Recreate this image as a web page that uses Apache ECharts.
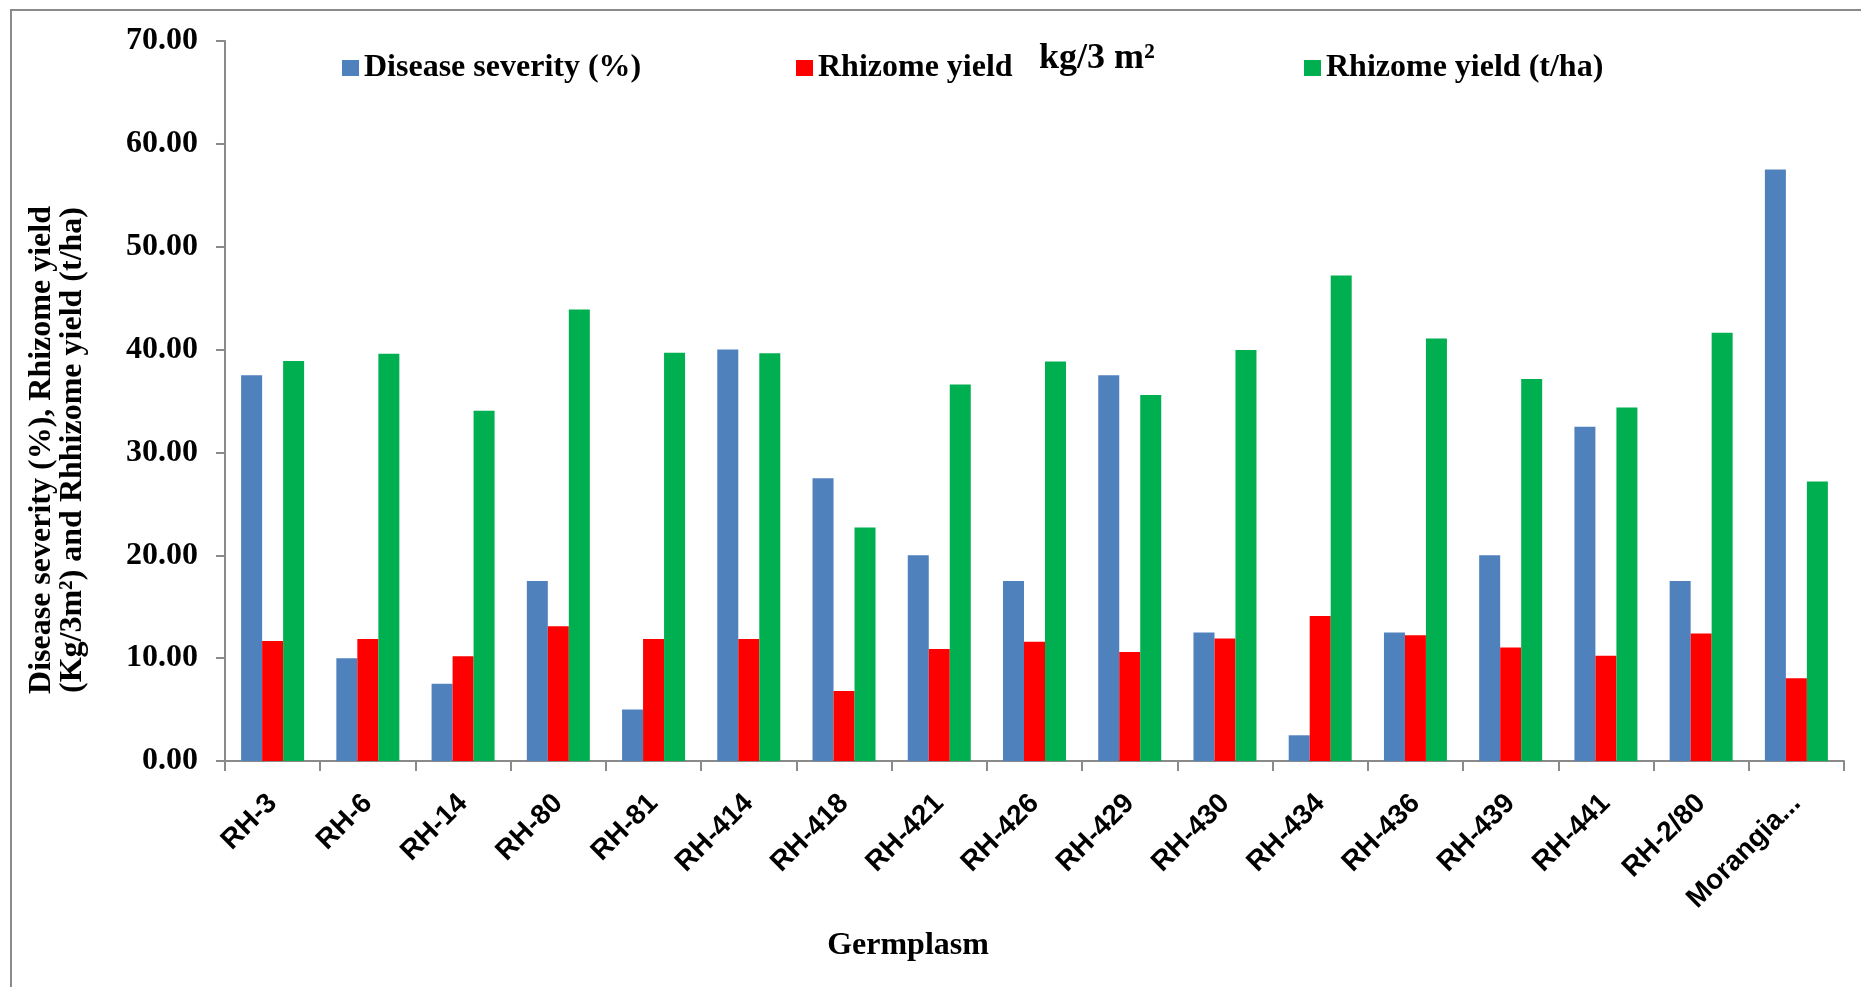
<!DOCTYPE html>
<html>
<head>
<meta charset="utf-8">
<title>Germplasm disease severity and rhizome yield</title>
<script src="https://cdn.jsdelivr.net/npm/echarts@6/dist/echarts.min.js"></script>
<style>
  html, body { margin: 0; padding: 0; background: #ffffff; }
  #chart { width: 1861px; height: 987px; }
</style>
</head>
<body>
<div id="chart"></div>
<script>
// Germplasm entries along the x axis
const germplasm = ['RH-3', 'RH-6', 'RH-14', 'RH-80', 'RH-81', 'RH-414', 'RH-418', 'RH-421',
  'RH-426', 'RH-429', 'RH-430', 'RH-434', 'RH-436', 'RH-439', 'RH-441', 'RH-2/80', 'Morangia...'];

// Disease severity (%)
const diseaseSeverity = [37.5, 10, 7.5, 17.5, 5, 40, 27.5, 20, 17.5, 37.5, 12.5, 2.5, 12.5, 20, 32.5, 17.5, 57.5];

// Rhizome yield (kg/3 m²)
const yieldPlot = [11.67, 11.85, 10.19, 13.1, 11.85, 11.85, 6.8, 10.9, 11.6, 10.6, 11.9, 14.1, 12.23, 11.04, 10.24, 12.39, 8.05];

// Rhizome yield (t/ha)
const yieldHa = [38.9, 39.6, 34.06, 43.9, 39.7, 39.64, 22.7, 36.6, 38.84, 35.58, 39.96, 47.2, 41.08, 37.13, 34.38, 41.63, 27.17];

const seriesNames = ['Disease severity (%)', 'Rhizome yield', 'Rhizome yield (t/ha)'];
const seriesColors = ['#4F81BD', '#FF0000', '#00B050'];

const SERIF = "'Liberation Serif', 'Times New Roman', serif";
const SANS = "'Liberation Sans', Arial, sans-serif";
const AXIS_GREY = '#8a8a8a';

const chart = echarts.init(document.getElementById('chart'));

function legendAt(name, left) {
  return {
    data: [name],
    left: left,
    top: 52,
    padding: 0,
    icon: 'rect',
    itemWidth: 17,
    itemHeight: 16,
    selectedMode: false,
    textStyle: {
      fontFamily: SERIF,
      fontWeight: 'bold',
      fontSize: 32,
      lineHeight: 32,
      color: '#000000'
    }
  };
}

const values = [diseaseSeverity, yieldPlot, yieldHa];

chart.setOption({
  animation: false,
  backgroundColor: '#ffffff',
  grid: { left: 225, right: 17, top: 41, bottom: 226, containLabel: false },
  legend: [
    legendAt(seriesNames[0], 342),
    legendAt(seriesNames[1], 796),
    legendAt(seriesNames[2], 1304)
  ],
  xAxis: {
    type: 'category',
    data: germplasm,
    axisLine: { lineStyle: { color: AXIS_GREY, width: 2 } },
    axisTick: { show: true, length: 10, lineStyle: { color: AXIS_GREY, width: 2 } },
    axisLabel: {
      rotate: 45,
      margin: 38,
      interval: 0,
      fontFamily: SANS,
      fontWeight: 'bold',
      fontSize: 28,
      color: '#000000'
    },
    splitLine: { show: false }
  },
  yAxis: {
    type: 'value',
    min: 0,
    max: 70,
    interval: 10,
    axisLine: { show: true, lineStyle: { color: AXIS_GREY, width: 2 } },
    axisTick: { show: true, length: 9, lineStyle: { color: AXIS_GREY, width: 2 } },
    axisLabel: {
      margin: 27,
      fontFamily: SERIF,
      fontWeight: 'bold',
      fontSize: 32,
      color: '#000000',
      formatter: v => v.toFixed(2)
    },
    splitLine: { show: false }
  },
  series: seriesNames.map((name, i) => ({
    name: name,
    type: 'bar',
    data: values[i],
    barWidth: 21,
    barGap: '0%',
    itemStyle: { color: seriesColors[i] }
  })),
  graphic: [
    {
      // outer chart frame
      type: 'rect',
      shape: { x: 11, y: 10, width: 1900, height: 1000 },
      style: { fill: 'none', stroke: AXIS_GREY, lineWidth: 2 },
      silent: true
    },
    {
      type: 'text',
      x: 1039,
      y: 59,
      style: {
        text: 'kg/3 m²',
        fontFamily: SERIF,
        fontWeight: 'bold',
        fontSize: 36,
        fill: '#000000',
        align: 'left',
        verticalAlign: 'middle'
      }
    },
    {
      type: 'text',
      x: 57,
      y: 450,
      rotation: Math.PI / 2,
      style: {
        text: 'Disease severity (%), Rhizome yield\n(Kg/3m²) and Rhhizome yield (t/ha)',
        fontFamily: SERIF,
        fontWeight: 'bold',
        fontSize: 32,
        lineHeight: 31,
        fill: '#000000',
        align: 'center',
        verticalAlign: 'middle'
      }
    },
    {
      type: 'text',
      x: 908,
      y: 946,
      style: {
        text: 'Germplasm',
        fontFamily: SERIF,
        fontWeight: 'bold',
        fontSize: 32,
        fill: '#000000',
        align: 'center',
        verticalAlign: 'middle'
      }
    }
  ]
});
</script>
</body>
</html>
